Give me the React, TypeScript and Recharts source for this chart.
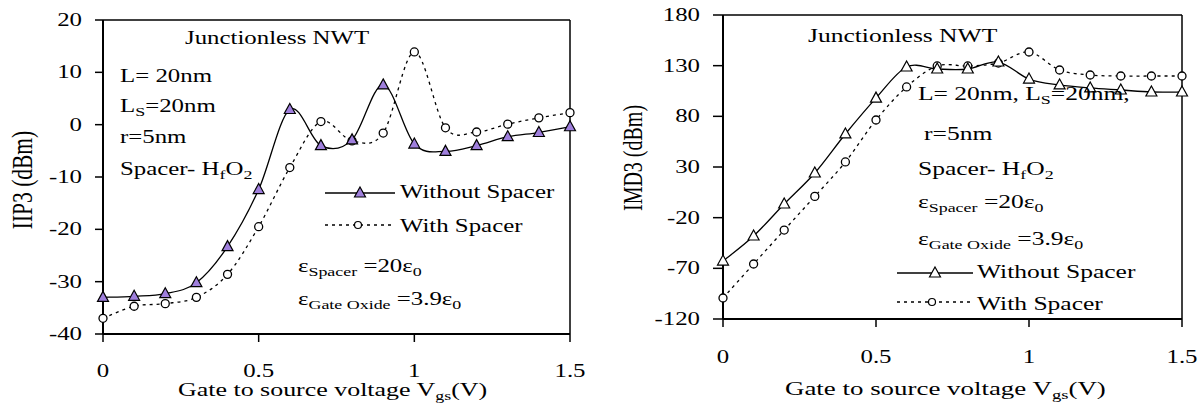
import React from 'react';
import { LineChart, Line, XAxis, YAxis, ReferenceLine } from 'recharts';

// gate to source voltage (V)
const vgs = [0, 0.1, 0.2, 0.3, 0.4, 0.5, 0.6, 0.7, 0.8, 0.9, 1.0, 1.1, 1.2, 1.3, 1.4, 1.5];

// IIP3 (dBm)
const iip3Without = [-33.0, -32.8, -32.3, -30.2, -23.3, -12.4, 2.9, -4.0, -2.9, 7.6, -3.7, -5.1, -4.0, -2.3, -1.5, -0.4];
const iip3With = [-37.0, -34.7, -34.2, -33.0, -28.6, -19.5, -8.2, 0.6, -3.1, -1.6, 13.9, -0.6, -1.4, 0.1, 1.3, 2.3];

// IMD3 (dBm)
const imd3Without = [-62.8, -38.1, -6.5, 24.1, 62.6, 98, 128.7, 126.7, 126.7, 133.6, 116.8, 111, 108, 106, 104, 104];
const imd3With = [-99.3, -65.7, -32.2, 1, 35, 76.4, 109, 129.7, 129.7, 132.6, 143.5, 125.7, 120.8, 119.8, 119.8, 119.8];

const xTicks = [0, 0.5, 1, 1.5];
const iip3Ticks = [-40, -30, -20, -10, 0, 10, 20];
const imd3Ticks = [-120, -70, -20, 30, 80, 130, 180];

const leftData = vgs.map((v, i) => ({ v, without: iip3Without[i], with: iip3With[i] }));
const rightData = vgs.map((v, i) => ({ v, without: imd3Without[i], with: imd3With[i] }));

const FONT = "'Liberation Serif', 'Times New Roman', serif";
const SX = 1.38; // the original picture is stretched sideways
const PURPLE = '#9f7fdc';

// excel-like smoothed line (catmull-rom through every point)
class SmoothCurve {
    ctx: any;
    pts: number[][] = [];
    constructor(ctx: any) {
        this.ctx = ctx;
    }
    areaStart() {}
    areaEnd() {}
    lineStart() {
        this.pts = [];
    }
    point(x: number, y: number) {
        this.pts.push([+x, +y]);
    }
    lineEnd() {
        const p = this.pts;
        const c = this.ctx;
        if (!p.length) return;
        c.moveTo(p[0][0], p[0][1]);
        for (let i = 0; i < p.length - 1; i++) {
            const p0 = p[Math.max(i - 1, 0)];
            const p1 = p[i];
            const p2 = p[i + 1];
            const p3 = p[Math.min(i + 2, p.length - 1)];
            c.bezierCurveTo(
                p1[0] + (p2[0] - p0[0]) / 6,
                p1[1] + (p2[1] - p0[1]) / 6,
                p2[0] - (p3[0] - p1[0]) / 6,
                p2[1] - (p3[1] - p1[1]) / 6,
                p2[0],
                p2[1]
            );
        }
    }
}
const smooth: any = (ctx: any) => new SmoothCurve(ctx);

const triPath = (cx: number, cy: number) => `M${cx},${cy - 6} L${cx + 5.5},${cy + 4} L${cx - 5.5},${cy + 4} Z`;

const triDot = (fill: string) => (p: any) => (
    <path key={`tri-${p.index}`} d={triPath(p.cx, p.cy)} fill={fill} stroke="#000" strokeWidth={1.2} />
);
const circleDot = (p: any) => (
    <circle key={`cir-${p.index}`} cx={p.cx} cy={p.cy} r={4} fill="#fff" stroke="#000" strokeWidth={1.3} />
);

const YTick = (p: any) => (
    <text
        transform={`translate(${p.x},${p.y + 6}) scale(${SX},1)`}
        textAnchor="end"
        fontFamily={FONT}
        fontSize={18}
        fill="#000"
    >
        {p.payload.value}
    </text>
);

const makeXTick = (dy: number) => (p: any) => (
    <text
        transform={`translate(${p.x},${p.y + dy}) scale(${SX},1)`}
        textAnchor="middle"
        fontFamily={FONT}
        fontSize={18}
        fill="#000"
    >
        {p.payload.value}
    </text>
);

function Note({ x, y, size = 18, children }: { x: number; y: number; size?: number; children: React.ReactNode }) {
    return (
        <text transform={`translate(${x},${y}) scale(${SX},1)`} fontFamily={FONT} fontSize={size} fill="#000">
            {children}
        </text>
    );
}

function Overlay() {
    return (
        <svg width={1200} height={404} style={{ position: 'absolute', left: 0, top: 0, pointerEvents: 'none' }}>
            {/* left chart notes */}
            <Note x={185} y={44}>Junctionless NWT</Note>
            <Note x={120} y={82}>L= 20nm</Note>
            <Note x={120} y={112}>
                L<tspan fontSize={13} dy={4}>S</tspan>
                <tspan dy={-4}>=20nm</tspan>
            </Note>
            <Note x={120} y={143}>r=5nm</Note>
            <Note x={120} y={175}>
                Spacer- H<tspan fontSize={13} dy={4}>f</tspan>
                <tspan dy={-4}>O</tspan>
                <tspan fontSize={13} dy={4}>2</tspan>
            </Note>
            <Note x={298} y={272}>
                ε<tspan fontSize={13} dy={4}>Spacer</tspan>
                <tspan dy={-4}> =20ε</tspan>
                <tspan fontSize={13} dy={4}>0</tspan>
            </Note>
            <Note x={298} y={305}>
                ε<tspan fontSize={13} dy={4}>Gate Oxide</tspan>
                <tspan dy={-4}> =3.9ε</tspan>
                <tspan fontSize={13} dy={4}>0</tspan>
            </Note>

            {/* left legend */}
            <line x1={325} x2={395} y1={193} y2={193} stroke="#000" strokeWidth={1.3} />
            <path d={triPath(360, 193)} fill={PURPLE} stroke="#000" strokeWidth={1.2} />
            <Note x={400} y={198}>Without Spacer</Note>
            <line x1={325} x2={395} y1={225} y2={225} stroke="#000" strokeWidth={1.3} strokeDasharray="3 4" />
            <circle cx={358} cy={225} r={3.5} fill="#fff" stroke="#000" strokeWidth={1.2} />
            <Note x={400} y={232}>With Spacer</Note>

            {/* left axis titles */}
            <text
                transform={`translate(32,180) rotate(-90) scale(1,${SX})`}
                textAnchor="middle"
                fontFamily={FONT}
                fontSize={21.5}
            >
                IIP3 (dBm)
            </text>
            <Note x={178} y={396} size={18.8}>
                Gate to source voltage V<tspan fontSize={13} dy={4}>gs</tspan>
                <tspan dy={-4}>(V)</tspan>
            </Note>

            {/* right chart notes */}
            <Note x={808} y={42} size={18.5}>Junctionless NWT</Note>
            <Note x={918} y={100} size={18.5}>
                L= 20nm, L<tspan fontSize={13} dy={4}>S</tspan>
                <tspan dy={-4}>=20nm,</tspan>
            </Note>
            <Note x={924} y={140} size={18.5}>r=5nm</Note>
            <Note x={918} y={175} size={18.5}>
                Spacer- H<tspan fontSize={13} dy={4}>f</tspan>
                <tspan dy={-4}>O</tspan>
                <tspan fontSize={13} dy={4}>2</tspan>
            </Note>
            <Note x={918} y={208} size={18.5}>
                ε<tspan fontSize={13} dy={4}>Spacer</tspan>
                <tspan dy={-4}> =20ε</tspan>
                <tspan fontSize={13} dy={4}>0</tspan>
            </Note>
            <Note x={918} y={245} size={18.5}>
                ε<tspan fontSize={13} dy={4}>Gate Oxide</tspan>
                <tspan dy={-4}> =3.9ε</tspan>
                <tspan fontSize={13} dy={4}>0</tspan>
            </Note>

            {/* right legend */}
            <line x1={897} x2={973} y1={273} y2={273} stroke="#000" strokeWidth={1.3} />
            <path d={triPath(935, 273)} fill="#fff" stroke="#000" strokeWidth={1.2} />
            <Note x={977} y={278} size={18.5}>Without Spacer</Note>
            <line x1={897} x2={973} y1={302} y2={302} stroke="#000" strokeWidth={1.3} strokeDasharray="3 4" />
            <circle cx={932} cy={302} r={3.5} fill="#fff" stroke="#000" strokeWidth={1.2} />
            <Note x={977} y={310} size={18.5}>With Spacer</Note>

            {/* right axis titles */}
            <text
                transform={`translate(642,158) rotate(-90) scale(1,${SX})`}
                textAnchor="middle"
                fontFamily={FONT}
                fontSize={20}
            >
                IMD3 (dBm)
            </text>
            <Note x={785} y={395} size={19.5}>
                Gate to source voltage V<tspan fontSize={13.5} dy={4}>gs</tspan>
                <tspan dy={-4}>(V)</tspan>
            </Note>
        </svg>
    );
}

export default function App() {
    return (
        <div style={{ position: 'absolute', left: 0, top: 0, width: 1200, height: 404, background: '#fff' }}>
            <div style={{ position: 'absolute', left: 0, top: 0 }}>
                <LineChart width={600} height={404} data={leftData} margin={{ top: 20, right: 30, left: 0, bottom: 0 }}>
                    <XAxis
                        dataKey="v"
                        type="number"
                        domain={[0, 1.5]}
                        ticks={xTicks}
                        height={70}
                        tickSize={8}
                        tickMargin={0}
                        tickLine={{ stroke: '#000', strokeWidth: 1.5 }}
                        axisLine={{ stroke: '#000', strokeWidth: 2 }}
                        tick={makeXTick(35)}
                    />
                    <YAxis
                        type="number"
                        domain={[-40, 20]}
                        ticks={iip3Ticks}
                        width={103}
                        tickSize={8}
                        tickMargin={13}
                        tickLine={{ stroke: '#000', strokeWidth: 1.5 }}
                        axisLine={{ stroke: '#000', strokeWidth: 2 }}
                        tick={YTick}
                    />
                    <ReferenceLine y={20} stroke="#000" strokeWidth={1.5} />
                    <ReferenceLine x={1.5} stroke="#000" strokeWidth={1.5} />
                    <Line
                        dataKey="with"
                        type={smooth}
                        stroke="#000"
                        strokeWidth={1.3}
                        strokeDasharray="3 4"
                        dot={circleDot}
                        isAnimationActive={false}
                    />
                    <Line
                        dataKey="without"
                        type={smooth}
                        stroke="#000"
                        strokeWidth={1.3}
                        dot={triDot(PURPLE)}
                        isAnimationActive={false}
                    />
                </LineChart>
            </div>
            <div style={{ position: 'absolute', left: 600, top: 0 }}>
                <LineChart width={600} height={404} data={rightData} margin={{ top: 15, right: 18, left: 0, bottom: 0 }}>
                    <XAxis
                        dataKey="v"
                        type="number"
                        domain={[0, 1.5]}
                        ticks={xTicks}
                        height={85}
                        tickSize={8}
                        tickMargin={0}
                        tickLine={{ stroke: '#000', strokeWidth: 1.5 }}
                        axisLine={{ stroke: '#000', strokeWidth: 2 }}
                        tick={makeXTick(36)}
                    />
                    <YAxis
                        type="number"
                        domain={[-120, 180]}
                        ticks={imd3Ticks}
                        width={123}
                        tickSize={10}
                        tickMargin={13}
                        tickLine={{ stroke: '#000', strokeWidth: 1.5 }}
                        axisLine={{ stroke: '#000', strokeWidth: 2 }}
                        tick={YTick}
                    />
                    <ReferenceLine y={180} stroke="#000" strokeWidth={1.5} />
                    <ReferenceLine x={1.5} stroke="#000" strokeWidth={1.5} />
                    <Line
                        dataKey="with"
                        type={smooth}
                        stroke="#000"
                        strokeWidth={1.3}
                        strokeDasharray="3 4"
                        dot={circleDot}
                        isAnimationActive={false}
                    />
                    <Line
                        dataKey="without"
                        type={smooth}
                        stroke="#000"
                        strokeWidth={1.3}
                        dot={triDot('#fff')}
                        isAnimationActive={false}
                    />
                </LineChart>
            </div>
            <Overlay />
        </div>
    );
}
